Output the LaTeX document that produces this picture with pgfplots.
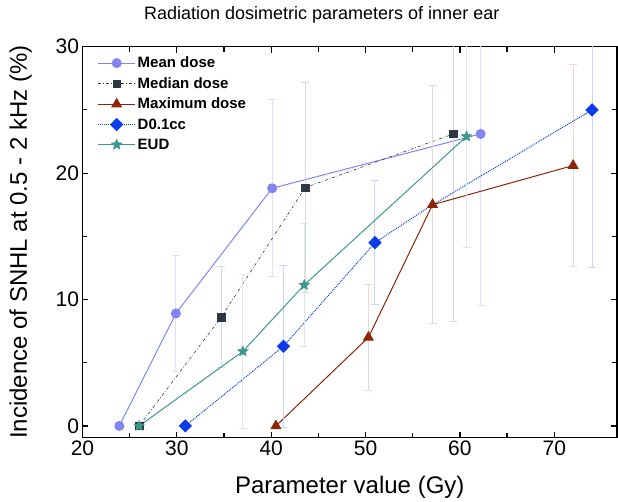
\documentclass[border=0pt]{standalone}
\usepackage{fontspec}
\setmainfont{Liberation Sans}
\usepackage{pgfplots}
\pgfplotsset{compat=1.18}

\definecolor{meanc}{RGB}{130,132,242}
\definecolor{medc}{RGB}{45,56,68}
\definecolor{maxc}{RGB}{140,36,5}
\definecolor{dc}{RGB}{10,60,235}
\definecolor{eudc}{RGB}{60,152,138}

% filled five-pointed star
\pgfdeclareplotmark{fstar}{%
  \pgfpathmoveto{\pgfpointpolar{90}{\pgfplotmarksize}}%
  \pgfpathlineto{\pgfpointpolar{126}{0.45\pgfplotmarksize}}%
  \pgfpathlineto{\pgfpointpolar{162}{\pgfplotmarksize}}%
  \pgfpathlineto{\pgfpointpolar{198}{0.45\pgfplotmarksize}}%
  \pgfpathlineto{\pgfpointpolar{234}{\pgfplotmarksize}}%
  \pgfpathlineto{\pgfpointpolar{270}{0.45\pgfplotmarksize}}%
  \pgfpathlineto{\pgfpointpolar{306}{\pgfplotmarksize}}%
  \pgfpathlineto{\pgfpointpolar{342}{0.45\pgfplotmarksize}}%
  \pgfpathlineto{\pgfpointpolar{18}{\pgfplotmarksize}}%
  \pgfpathlineto{\pgfpointpolar{54}{0.45\pgfplotmarksize}}%
  \pgfpathclose
  \pgfusepathqfillstroke}

\begin{document}
\begin{tikzpicture}
\begin{axis}[
  scale only axis, width=534.5pt, height=391pt,
  xmin=20, xmax=76.65, ymin=-0.93, ymax=30,
  xtick={20,30,...,70}, ytick={0,10,20,30},
  minor x tick num=1, minor y tick num=1,
  tick align=inside, major tick length=6pt, minor tick length=5pt,
  axis line style={line width=1.2pt},
  every tick/.style={line width=1.2pt, black},
  tick label style={font=\fontsize{21}{21}\selectfont},
  /pgf/number format/assume math mode=true,
  title={Radiation dosimetric parameters of inner ear},
  title style={font=\fontsize{18}{18}\selectfont, at={(0.5,1)}, anchor=base, yshift=21pt, xshift=-28pt},
  xlabel={Parameter value (Gy)},
  ylabel={Incidence of SNHL at 0.5 - 2 kHz (\%)},
  label style={font=\fontsize{24}{24}\selectfont},
  xlabel style={at={(axis description cs:0.5,0)}, anchor=base, yshift=-56pt},
  ylabel style={at={(axis description cs:-0.104,0.5)}, anchor=base},
  legend style={draw=none, fill=none, at={(0,1)}, anchor=north west, xshift=12pt, yshift=-6pt,
    font=\bfseries\fontsize{15}{15}\selectfont, row sep=4.2pt},
  legend cell align=left,
  legend image code/.code={\draw[#1, mark indices={2}] plot coordinates {(0pt,0pt) (18.5pt,0pt) (37pt,0pt)};},
  error bars/y dir=both, error bars/y explicit,
]
% Mean dose
\addplot[color=meanc, line width=1pt, mark=*, mark size=4.5pt,
  error bars/error bar style={color=meanc!25, line width=1pt},
  error bars/error mark options={rotate=90, color=meanc!25, line width=1pt, mark size=4pt}]
coordinates {
  (23.9,0) += (0,0) -= (0,0)
  (29.9,8.9) += (0,4.6) -= (0,4.6)
  (40.1,18.8) += (0,7.0) -= (0,7.0)
  (62.2,23.1) += (0,13.6) -= (0,13.6)
};
\addlegendentry{Mean dose}
% Median dose
\addplot[color=medc, line width=0.6pt, dash dot, mark=square*, mark size=3.8pt,
  mark options={solid},
  error bars/error bar style={color=medc!20, line width=1pt, solid},
  error bars/error mark options={rotate=90, color=medc!20, line width=1pt, mark size=4pt, solid}]
coordinates {
  (26.0,0) += (0,0) -= (0,0)
  (34.7,8.6) += (0,4.0) -= (0,4.0)
  (43.6,18.85) += (0,8.3) -= (0,8.3)
  (59.3,23.1) += (0,14.8) -= (0,14.8)
};
\addlegendentry{Median dose}
% Maximum dose
\addplot[color=maxc, line width=1pt, mark=triangle*, mark size=5.5pt,
  error bars/error bar style={color=maxc!18, line width=1pt},
  error bars/error mark options={rotate=90, color=maxc!18, line width=1pt, mark size=4pt}]
coordinates {
  (40.5,0) += (0,0) -= (0,0)
  (50.3,7.0) += (0,4.2) -= (0,4.2)
  (57.1,17.5) += (0,9.4) -= (0,9.4)
  (72.0,20.6) += (0,8.0) -= (0,8.0)
};
\addlegendentry{Maximum dose}
% D0.1cc (4th point lies under the triangle)
\addplot[color=dc, line width=1pt, densely dotted, mark=square*, mark size=4.2pt,
  mark options={solid, rotate=45}, mark indices={1,2,3,5},
  error bars/error bar style={color=dc!22, line width=1pt, solid},
  error bars/error mark options={rotate=90, color=dc!22, line width=1pt, mark size=4pt, solid}]
coordinates {
  (30.9,0) += (0,0) -= (0,0)
  (41.3,6.3) += (0,6.4) -= (0,6.4)
  (51.0,14.5) += (0,4.9) -= (0,4.9)
  (56.9,17.4) += (0,0) -= (0,0)
  (74.0,25.0) += (0,12.5) -= (0,12.5)
};
\addlegendentry{D0.1cc}
% EUD
\addplot[color=eudc, line width=1pt, mark=fstar, mark size=5.5pt,
  mark options={fill=eudc, line width=0.5pt},
  error bars/error bar style={color=eudc!20, line width=1pt},
  error bars/error mark options={rotate=90, color=eudc!20, line width=1pt, mark size=4pt}]
coordinates {
  (26.0,0) += (0,0) -= (0,0)
  (37.0,5.9) += (0,6.1) -= (0,6.1)
  (43.5,11.15) += (0,4.85) -= (0,4.85)
  (60.7,22.9) += (0,8.8) -= (0,8.8)
};
\addlegendentry{EUD}
\end{axis}
\pgfresetboundingbox
\path[use as bounding box] (-82.5pt,-64.3pt) rectangle (535.5pt,437.7pt);
\end{tikzpicture}
\end{document}
